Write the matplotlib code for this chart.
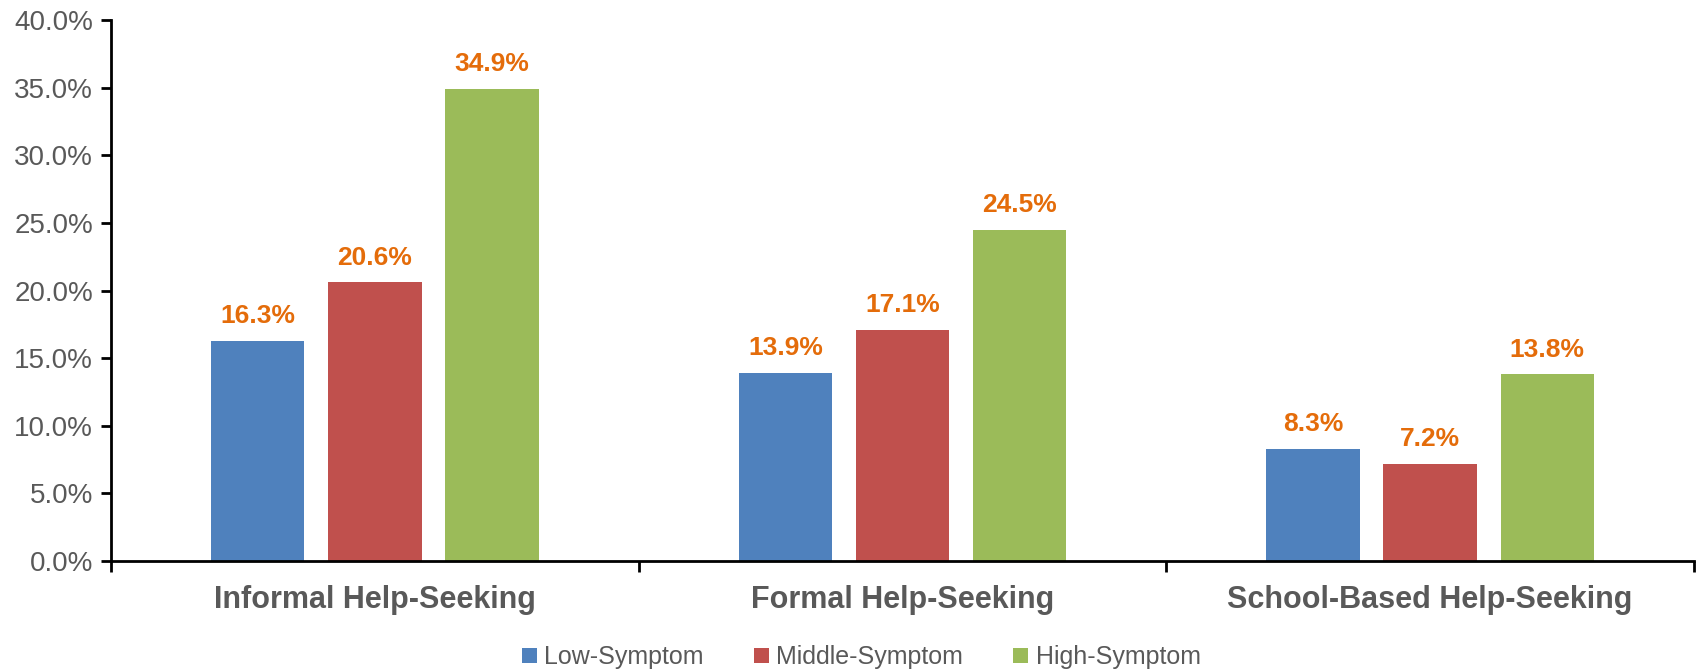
import numpy as np
import matplotlib.pyplot as plt
from matplotlib.ticker import FuncFormatter, FixedLocator

plt.rcParams['font.family'] = ['Liberation Sans', 'DejaVu Sans']

# Данные
categories = ['Informal Help-Seeking', 'Formal Help-Seeking', 'School-Based Help-Seeking']
series_names = ['Low-Symptom', 'Middle-Symptom', 'High-Symptom']
low = [16.3, 13.9, 8.3]
middle = [20.6, 17.1, 7.2]
high = [34.9, 24.5, 13.8]
colors = ['#4F81BD', '#C0504D', '#9BBB59']

fig = plt.figure(figsize=(16.98, 6.69), dpi=100)
ax = fig.add_axes([0.0654, 0.1614, 0.9322, 0.8086])

x = np.arange(len(categories))
width = 0.177
offsets = [-0.222, 0, 0.222]

for vals, name, col, off in zip([low, middle, high], series_names, colors, offsets):
    bars = ax.bar(x + off, vals, width, color=col, label=name)
    for b, v in zip(bars, vals):
        ax.text(b.get_x() + b.get_width() / 2, v + 0.95, f'{v:.1f}%',
                ha='center', va='bottom', fontsize=19, fontweight='bold',
                color='#E46C0A')

# Оси
ax.set_xlim(-0.5, 2.5)
ax.set_ylim(0, 40)
ax.set_yticks(np.arange(0, 40.1, 5))
ax.yaxis.set_major_formatter(FuncFormatter(lambda v, p: f'{v:.1f}%'))
ax.tick_params(axis='y', labelsize=20, labelcolor='#595959', length=7,
               width=2, direction='out', pad=6)

ax.set_xticks(x)
ax.set_xticklabels(categories, fontsize=22, fontweight='bold', color='#595959')
ax.tick_params(axis='x', which='major', length=0, pad=17)
ax.xaxis.set_minor_locator(FixedLocator([-0.5, 0.5, 1.5, 2.5]))
ax.tick_params(axis='x', which='minor', length=8, width=2, direction='out')

for s in ['top', 'right']:
    ax.spines[s].set_visible(False)
for s in ['left', 'bottom']:
    ax.spines[s].set_linewidth(2)

ax.legend(loc='center', bbox_to_anchor=(0.474, -0.178), ncol=3,
          frameon=False, fontsize=18, handlelength=0.6, handleheight=0.6,
          handletextpad=0.3, columnspacing=2.0, labelcolor='#595959',
          borderpad=0)

fig.savefig('out.png', dpi=100)
